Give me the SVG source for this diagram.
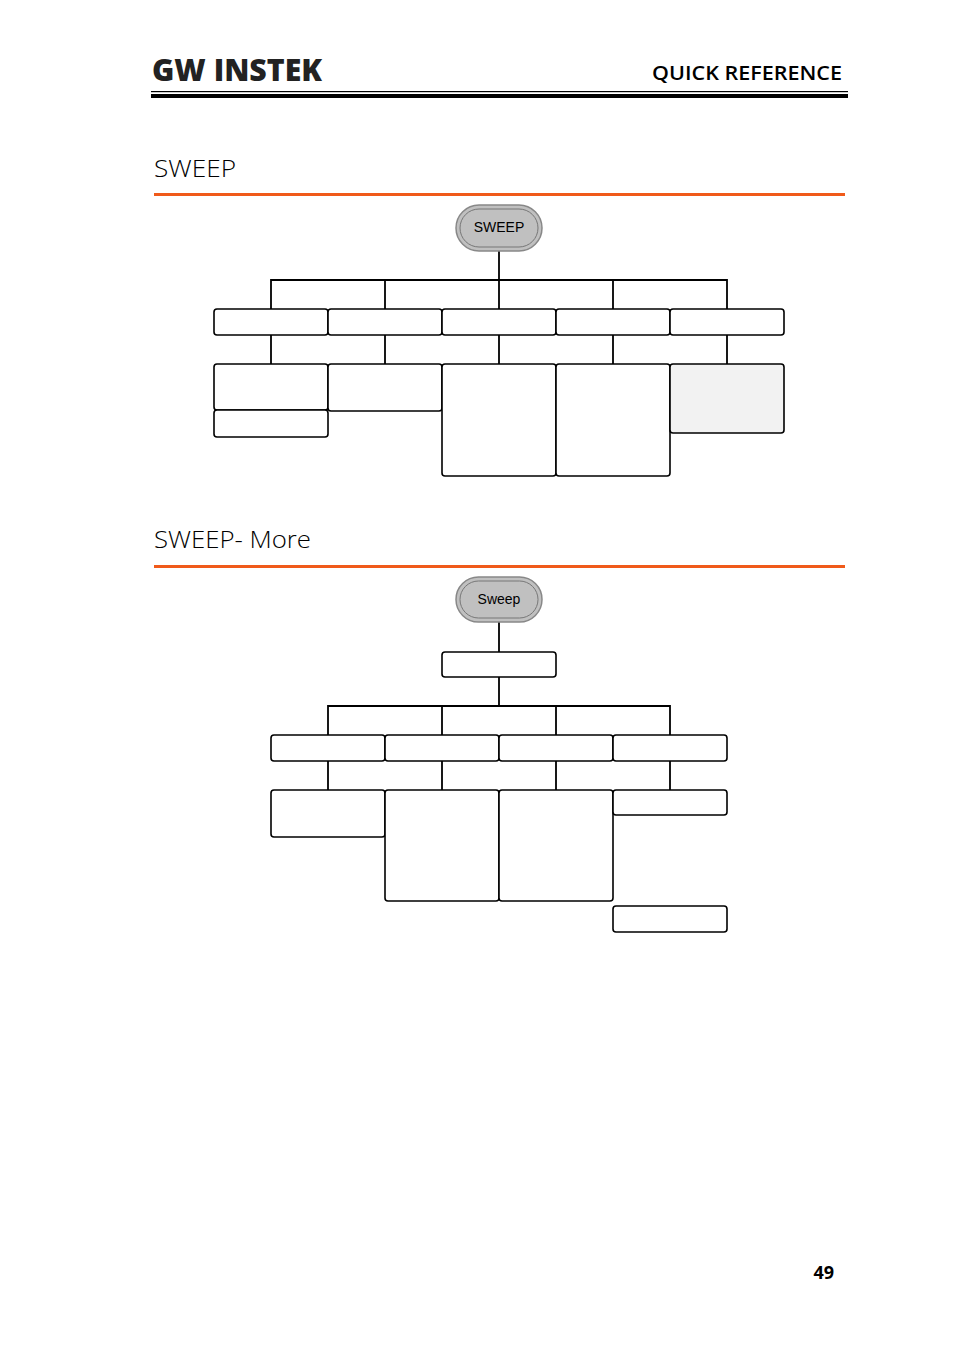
<svg xmlns="http://www.w3.org/2000/svg" width="954" height="1350" viewBox="0 0 954 1350">
<style>
.b{fill:#fff;stroke:#000;stroke-width:1.6}
.g{fill:#f2f2f2;stroke:#000;stroke-width:1.6}
.c{fill:none;stroke:#000;stroke-width:1.8}
.t{font-family:"Open Sans","Liberation Sans",sans-serif}
.s{font-family:"Liberation Sans",Arial,sans-serif;font-size:14px;text-anchor:middle}
</style>
<rect width="954" height="1350" fill="#fff"/>
<g id="header">
<text x="152" y="81" class="t" font-size="30" font-weight="900" font-family="Liberation Sans,sans-serif" textLength="170" lengthAdjust="spacingAndGlyphs" fill="#222">GW INSTEK</text>
<text x="652" y="80" class="t" font-size="20" font-weight="600" textLength="190" lengthAdjust="spacingAndGlyphs">QUICK REFERENCE</text>
<rect x="151" y="91" width="697" height="1.2" fill="#000"/>
<rect x="151" y="94" width="697" height="4" fill="#000"/>
</g>
<g id="title1"><text x="154" y="177" class="t" font-size="24" font-weight="300" textLength="82" lengthAdjust="spacingAndGlyphs">SWEEP</text>
<rect x="154" y="193" width="691" height="3" fill="#f05a1a"/></g>
<g id="title2"><text x="154" y="548" class="t" font-size="24" font-weight="300" textLength="157" lengthAdjust="spacingAndGlyphs">SWEEP- More</text>
<rect x="154" y="565" width="691" height="3" fill="#f05a1a"/></g>
<g id="connectors">
<path class="c" d="M499 251V280M271 309V280H727V309M385 280V309M499 280V309M613 280V309M271 335V364M385 335V364M499 335V364M613 335V364M727 335V364"/>
<path class="c" d="M499 622V652M499 677V706M328 735V706H670V735M442 706V735M556 706V735M328 761V790M442 761V790M556 761V790M670 761V790"/>
</g>
<g id="sweep1"><rect x="456" y="205" width="86" height="46" rx="23" fill="#c0c0c0" stroke="#888" stroke-width="1.5"/><rect x="460" y="209" width="78" height="38" rx="19" fill="none" stroke="#777" stroke-width="1"/><text x="499" y="232" class="s">SWEEP</text></g>
<g id="r1"><rect class="b" x="214" y="309" width="114" height="26" rx="3"/><rect class="b" x="328" y="309" width="114" height="26" rx="3"/><rect class="b" x="442" y="309" width="114" height="26" rx="3"/><rect class="b" x="556" y="309" width="114" height="26" rx="3"/><rect class="b" x="670" y="309" width="114" height="26" rx="3"/></g>
<g id="r2"><rect class="b" x="214" y="364" width="114" height="46" rx="3"/><rect class="b" x="214" y="410" width="114" height="27" rx="3"/><rect class="b" x="328" y="364" width="114" height="47" rx="3"/><rect class="b" x="442" y="364" width="114" height="112" rx="3"/><rect class="b" x="556" y="364" width="114" height="112" rx="3"/><rect class="g" x="670" y="364" width="114" height="69" rx="3"/></g>
<g id="sweep2"><rect x="456" y="577" width="86" height="45" rx="22.5" fill="#c0c0c0" stroke="#888" stroke-width="1.5"/><rect x="460" y="581" width="78" height="37" rx="18.5" fill="none" stroke="#777" stroke-width="1"/><text x="499" y="604" class="s">Sweep</text></g>
<g id="m1"><rect class="b" x="442" y="652" width="114" height="25" rx="3"/></g>
<g id="m2"><rect class="b" x="271" y="735" width="114" height="26" rx="3"/><rect class="b" x="385" y="735" width="114" height="26" rx="3"/><rect class="b" x="499" y="735" width="114" height="26" rx="3"/><rect class="b" x="613" y="735" width="114" height="26" rx="3"/></g>
<g id="m3"><rect class="b" x="271" y="790" width="114" height="47" rx="3"/><rect class="b" x="385" y="790" width="114" height="111" rx="3"/><rect class="b" x="499" y="790" width="114" height="111" rx="3"/><rect class="b" x="613" y="790" width="114" height="25" rx="3"/><rect class="b" x="613" y="906" width="114" height="26" rx="3"/></g>
<text x="834" y="1279" class="t" font-size="18" font-weight="700" text-anchor="end">49</text>
</svg>
